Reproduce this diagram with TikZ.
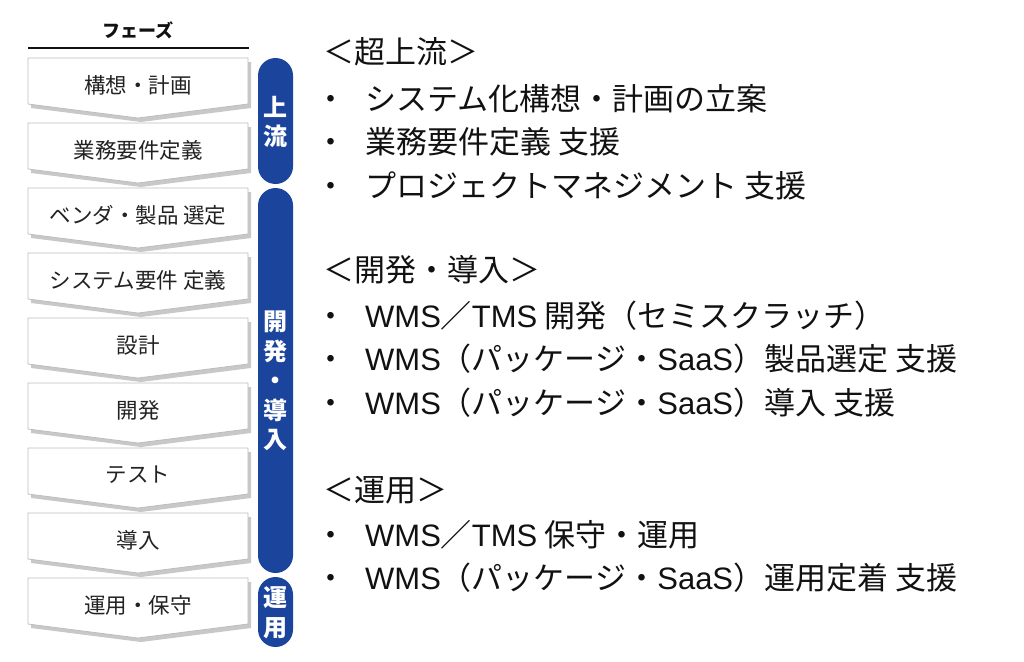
\documentclass[tikz,border=0pt]{standalone}
\usepackage{fontspec}
\setmainfont{Noto Sans CJK JP}
\newfontfamily\latinfont{Liberation Sans}
\usepackage{xcolor}
\usepackage{tikz}
\usetikzlibrary{calc}
\definecolor{ink}{HTML}{111111}
\definecolor{boxtext}{HTML}{222222}
\definecolor{boxline}{HTML}{BDBDBD}
\definecolor{boxshade}{HTML}{C8C8C8}
\definecolor{phaseblue}{HTML}{1B449C}
\tikzset{
  phasebox/.style={draw=boxline, fill=white, line width=0.8pt, line join=miter},
  boxshadow/.style={fill=boxshade},
  stagebar/.style={fill=phaseblue, rounded corners=17.5pt},
  barlab/.style={text=white, font=\fontsize{24}{29.5}\selectfont\bfseries, align=center, inner sep=0pt},
  lab/.style={text=boxtext, font=\fontsize{21.5}{26}\selectfont},
  title/.style={text=ink, font=\fontsize{18}{22}\selectfont\bfseries},
  grouphead/.style={text=ink, font=\fontsize{31}{36}\selectfont, anchor=west, inner sep=0pt},
  listitem/.style={text=ink, font=\fontsize{31}{36}\selectfont, anchor=west, inner sep=0pt},
}
\newcommand{\bul}[1]{・\hspace{19pt}#1}
\newcommand{\lt}[1]{{\latinfont #1}}

\begin{document}
\begin{tikzpicture}[x=1pt, y=-1pt]
  \useasboundingbox (0,0) rectangle (1024,661);
  % phase column
  \node[title] (phasehead) at (138,30) {フェーズ};
  \draw[draw=ink, line width=1.5pt] (28,48) -- (249,48);
  \foreach \txt [count=\i from 0] in {構想・計画, 業務要件定義, ベンダ・製品 選定,
      システム要件 定義, 設計, 開発, テスト, 導入, 運用・保守} {
    \pgfmathsetmacro\t{58+65*\i}
    \fill[boxshadow] (31,{\t+4}) -- (251,{\t+4}) -- (251,{\t+50}) -- (141,{\t+64}) -- (31,{\t+50}) -- cycle;
    \draw[phasebox] (28,\t) -- (248,\t) -- (248,{\t+46}) -- (138,{\t+60}) -- (28,{\t+46}) -- cycle;
    \node[lab] (ph\i) at (138,{\t+27}) {\txt};
  }
  % stage bars
  \fill[stagebar] (258,58) rectangle (293,184);
  \node[barlab] (upstream) at (275.5,122) {上\\流};
  \fill[stagebar] (258,188) rectangle (293,573);
  \node[barlab] (develop) at (275.5,381) {開\\発\\・\\導\\入};
  \fill[stagebar] (258,577) rectangle (293,647);
  \node[barlab] (operate) at (275.5,613) {運\\用};
  % service list
  \node[grouphead] (g1) at (323,52) {＜超上流＞};
  \node[listitem] (g1a) at (315,99) {\bul{システム化構想・計画の立案}};
  \node[listitem] (g1b) at (315,142) {\bul{業務要件定義 支援}};
  \node[listitem] (g1c) at (315,186) {\bul{プロジェクトマネジメント 支援}};
  \node[grouphead] (g2) at (323,270) {＜開発・導入＞};
  \node[listitem] (g2a) at (315,316) {\bul{\lt{WMS}／\lt{TMS} 開発（セミスクラッチ）}};
  \node[listitem] (g2b) at (315,359) {\bul{\lt{WMS}（パッケージ・\lt{SaaS}）製品選定 支援}};
  \node[listitem] (g2c) at (315,403) {\bul{\lt{WMS}（パッケージ・\lt{SaaS}）導入 支援}};
  \node[grouphead] (g3) at (323,490) {＜運用＞};
  \node[listitem] (g3a) at (315,535) {\bul{\lt{WMS}／\lt{TMS} 保守・運用}};
  \node[listitem] (g3b) at (315,578) {\bul{\lt{WMS}（パッケージ・\lt{SaaS}）運用定着 支援}};
\end{tikzpicture}
\end{document}
